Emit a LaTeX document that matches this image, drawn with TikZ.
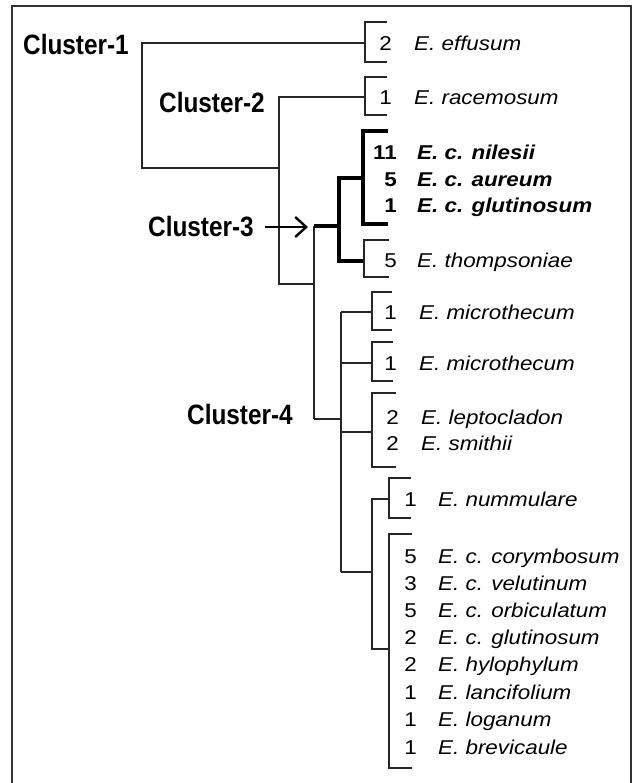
\documentclass[tikz,border=0pt]{standalone}
\usepackage{fontspec}
\setmainfont{Liberation Sans}
\newfontfamily\spfont[FakeStretch=1.12]{Liberation Sans}
\newfontfamily\clfont[FakeStretch=0.87]{Liberation Sans}
\usetikzlibrary{arrows.meta}
\begin{document}
\begin{tikzpicture}[x=1pt,y=-1pt,
  tree/.style={line width=1.5pt, draw=black!85, line join=miter},
  boldtree/.style={line width=3.5pt, draw=black, line join=miter},
  frameline/.style={line width=1.6pt, draw=black!80},
  num/.style={anchor=base east, inner sep=0pt, font=\spfont\fontsize{20}{20}\selectfont, text=black},
  sp/.style={anchor=base west, inner sep=0pt, font=\spfont\fontsize{20}{20}\selectfont\itshape, text=black},
  bnum/.style={num, font=\spfont\fontsize{20}{20}\selectfont\bfseries},
  bsp/.style={sp, font=\spfont\fontsize{20}{20}\selectfont\bfseries\itshape},
  cl/.style={anchor=base west, inner sep=0pt, font=\clfont\fontsize{28}{28}\selectfont\bfseries},
  arrowline/.style={line width=2.2pt, -{Straight Barb[length=11pt,width=20pt,line width=2.4pt]}}
]
\useasboundingbox (0,0) rectangle (636,783);
\fill[white] (0,0) rectangle (636,783);
% frame
\draw[frameline] (12,790) -- (12,6) -- (631,6) -- (631,790);

% cluster labels
\node[cl] (c1) at (23,55) {Cluster-1};
\node[cl] (c2) at (159,113) {Cluster-2};
\node[cl] (c3) at (148,237) {Cluster-3};
\node[cl] (c4) at (187,424) {Cluster-4};

% tree junction coordinates
\coordinate (r1) at (142,43);
\coordinate (r1b) at (142,168);
\coordinate (r2) at (279,97);
\coordinate (r2b) at (279,168);
\coordinate (r2c) at (279,284);
\coordinate (r3) at (314,226);
\coordinate (r3b) at (314,284);
\coordinate (r4) at (314,419);
\coordinate (b3) at (339,226);
\coordinate (b3t) at (339,178);
\coordinate (b3b) at (339,261);
\coordinate (k4) at (341,419);
\coordinate (k4t) at (341,312);
\coordinate (k4b) at (341,572);
\coordinate (a3) at (308,0);

% cluster 1 and 2
\draw[tree] (365,43) -- (r1) -- (r1b) -- (r2b);
\draw[tree] (387,22) -- (365,22) -- (365,62) -- (387,62);
\draw[tree] (365,97) -- (r2) -- (r2c) -- (r3b);
\draw[tree] (387,77) -- (365,77) -- (365,115) -- (387,115);
\draw[tree] (r3) -- (r4);

% cluster 3
\draw[boldtree] (r3) -- (b3);
\draw[boldtree] (363,178) -- (b3t) -- (b3b) -- (364,261);
\draw[boldtree] (388,131) -- (363,131) -- (363,224) -- (388,224);
\draw[tree] (389,240) -- (364,240) -- (364,277) -- (389,277);

% cluster 4
\draw[tree] (r4) -- (k4);
\draw[tree] (k4t) -- (k4b);
\draw[tree] (k4t) -- (372,312);
\draw[tree] (341,363) -- (372,363);
\draw[tree] (341,432) -- (372,432);
\draw[tree] (k4b) -- (372,572);
\draw[tree] (392,292) -- (372,292) -- (372,330) -- (392,330);
\draw[tree] (393,342) -- (372,342) -- (372,381) -- (393,381);
\draw[tree] (396,393) -- (372,393) -- (372,467) -- (396,467);
\draw[tree] (389,499) -- (372,499) -- (372,649) -- (389,649);
\draw[tree] (411,478) -- (389,478) -- (389,518) -- (411,518);
\draw[tree] (412,534) -- (389,534) -- (389,768) -- (412,768);

% arrow
\draw[arrowline] ([xshift=11pt]c3.east) -- (a3 |- c3.east);

% species
\node[num] (n1) at (392,51) {2};  \node[sp] (s1) at (414,51) {E. effusum};
\node[num] (n2) at (392,105) {1}; \node[sp] (s2) at (414,105) {E. racemosum};
\node[bnum] (n3) at (397,160) {11}; \node[bsp] (s3) at (417,160) {E. c. nilesii};
\node[bnum] (n4) at (397,187) {5}; \node[bsp] (s4) at (417,187) {E. c. aureum};
\node[bnum] (n5) at (397,213) {1}; \node[bsp] (s5) at (417,213) {E. c. glutinosum};
\node[num] (n6) at (397,267) {5}; \node[sp] (s6) at (417,267) {E. thompsoniae};
\node[num] (n7) at (397,319) {1}; \node[sp] (s7) at (419,319) {E. microthecum};
\node[num] (n8) at (397,370) {1}; \node[sp] (s8) at (419,370) {E. microthecum};
\node[num] (n9) at (399,424) {2}; \node[sp] (s9) at (421,424) {E. leptocladon};
\node[num] (n10) at (399,450) {2}; \node[sp] (s10) at (421,450) {E. smithii};
\node[num] (n11) at (417,506) {1}; \node[sp] (s11) at (438,506) {E. nummulare};
\node[num] (n12) at (417,563) {5}; \node[sp] (s12) at (438,563) {E. c. corymbosum};
\node[num] (n13) at (417,590) {3}; \node[sp] (s13) at (438,590) {E. c. velutinum};
\node[num] (n14) at (417,617) {5}; \node[sp] (s14) at (438,617) {E. c. orbiculatum};
\node[num] (n15) at (417,644) {2}; \node[sp] (s15) at (438,644) {E. c. glutinosum};
\node[num] (n16) at (417,671) {2}; \node[sp] (s16) at (438,671) {E. hylophylum};
\node[num] (n17) at (417,699) {1}; \node[sp] (s17) at (438,699) {E. lancifolium};
\node[num] (n18) at (417,726) {1}; \node[sp] (s18) at (438,726) {E. loganum};
\node[num] (n19) at (417,754) {1}; \node[sp] (s19) at (438,754) {E. brevicaule};
\end{tikzpicture}
\end{document}
